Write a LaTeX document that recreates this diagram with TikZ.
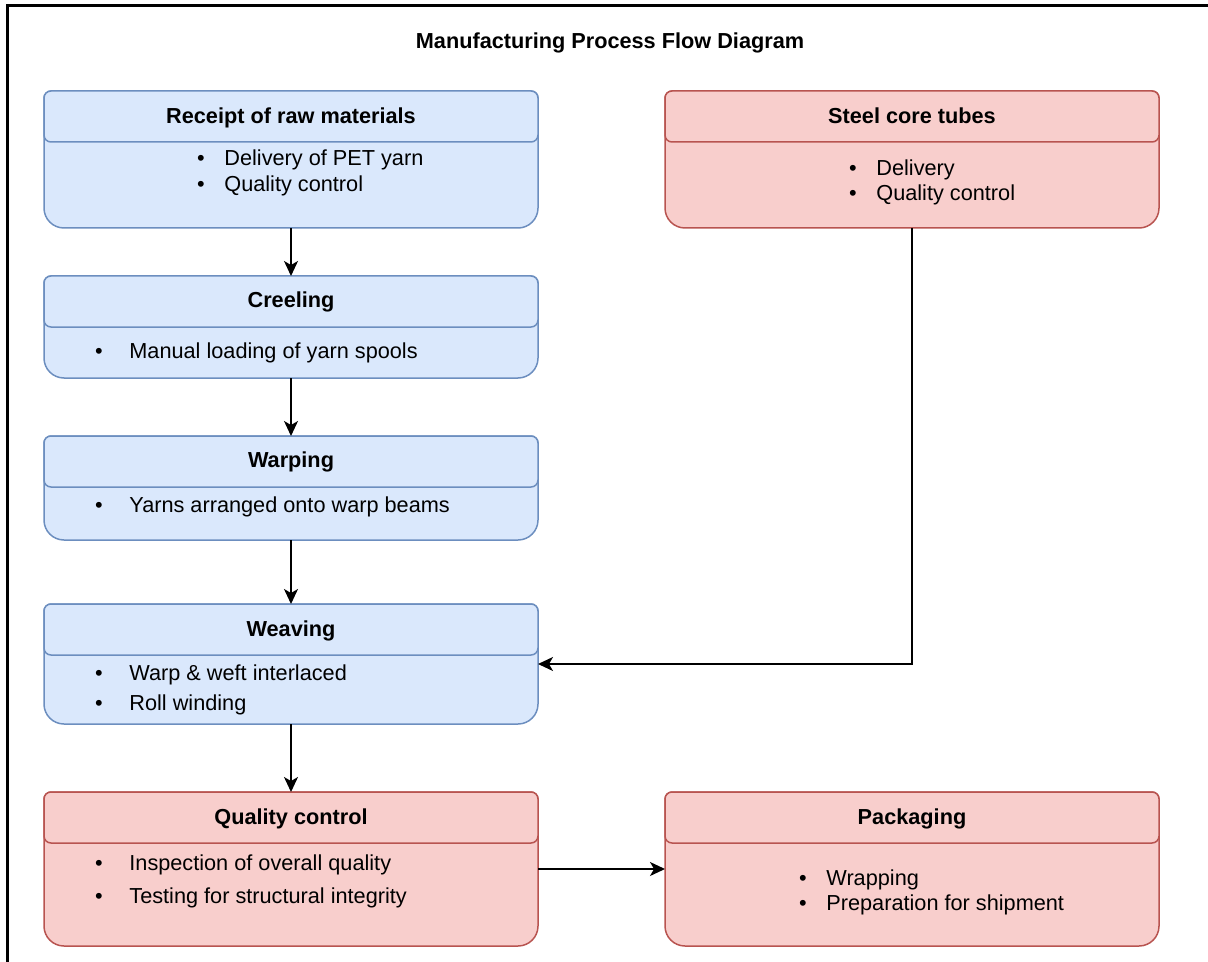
\documentclass[tikz,border=0pt]{standalone}
\usepackage{fontspec}
\setmainfont{Liberation Sans}
\usetikzlibrary{arrows.meta}
\definecolor{bluefill}{HTML}{DAE8FC}
\definecolor{blueline}{HTML}{6C8EBF}
\definecolor{redfill}{HTML}{F8CECC}
\definecolor{redline}{HTML}{B85450}
\newcommand{\dfont}{\fontsize{10.85}{13}\selectfont}
% box: name, x1, y1, x2, y2, header bottom, look
\newcommand{\flowbox}[7]{%
  \filldraw[#7] (#2,-#3-7) arc[start angle=180,end angle=90,radius=7] -- (#4-7,-#3) arc[start angle=90,end angle=0,radius=7] -- (#4,-#5+20) arc[start angle=0,end angle=-90,radius=20] -- (#2+20,-#5) arc[start angle=270,end angle=180,radius=20] -- cycle;
  \filldraw[#7,rounded corners=3.5pt] (#2,-#3) rectangle (#4,-#6);
  \node[boxarea,minimum width={(#4-#2)*0.5pt},minimum height={(#5-#3)*0.5pt}] (#1) at ({(#2+#4)/2},{-(#3+#5)/2}) {};
}

\begin{document}
\begin{tikzpicture}[x=0.5pt,y=0.5pt,font=\dfont,
    bluebox/.style={fill=bluefill,draw=blueline,line width=0.75pt},
    redbox/.style={fill=redfill,draw=redline,line width=0.75pt},
    boxarea/.style={rectangle,inner sep=0pt,outer sep=0pt},
    head/.style={font=\dfont\bfseries,anchor=base,inner sep=0pt},
    item/.style={anchor=base west,inner sep=0pt},
    dot/.style={anchor=base,inner sep=0pt},
    arr/.style={-{Stealth[length=7.5pt,width=7pt,inset=2pt]},line width=0.75pt}]
        \useasboundingbox (0,0) rectangle (1208,-962);
        \draw[line width=1.1pt](7.5,-962)|-(1208,-5.5);
        \node[head](title)at(610,-49){Manufacturing Process Flow Diagram};

        \flowbox{receipt}{44}{91}{538}{228}{142}{bluebox}
        \node[head](receipt-t)at(291,-123.5){Receipt of raw materials};
        \node[dot](receipt-b1)at(201,-166){\textbullet};
        \node[item](receipt-l1)at(224,-166){Delivery of PET yarn};
        \node[dot](receipt-b2)at(201,-192){\textbullet};
        \node[item](receipt-l2)at(224,-192){Quality control};

        \flowbox{steel}{665}{91}{1159}{228}{142}{redbox}
        \node[head](steel-t)at(912,-123.5){Steel core tubes};
        \node[dot](steel-b1)at(853,-176){\textbullet};
        \node[item](steel-l1)at(876,-176){Delivery};
        \node[dot](steel-b2)at(853,-201){\textbullet};
        \node[item](steel-l2)at(876,-201){Quality control};

        \flowbox{creel}{44}{276}{538}{378}{327}{bluebox}
        \node[head](creel-t)at(291,-307.5){Creeling};
        \node[dot](creel-b1)at(99,-358){\textbullet};
        \node[item](creel-l1)at(129,-358){Manual loading of yarn spools};

        \flowbox{warp}{44}{436}{538}{540}{487}{bluebox}
        \node[head](warp-t)at(291,-467.5){Warping};
        \node[dot](warp-b1)at(99,-512){\textbullet};
        \node[item](warp-l1)at(129,-512){Yarns arranged onto warp beams};

        \flowbox{weave}{44}{604}{538}{724}{655}{bluebox}
        \node[head](weave-t)at(291,-636){Weaving};
        \node[dot](weave-b1)at(99,-680){\textbullet};
        \node[item](weave-l1)at(129,-680){Warp \& weft interlaced};
        \node[dot](weave-b2)at(99,-710){\textbullet};
        \node[item](weave-l2)at(129,-710){Roll winding};

        \flowbox{qc}{44}{792}{538}{946}{843}{redbox}
        \node[head](qc-t)at(291,-824){Quality control};
        \node[dot](qc-b1)at(99,-870){\textbullet};
        \node[item](qc-l1)at(129,-870){Inspection of overall quality};
        \node[dot](qc-b2)at(99,-903){\textbullet};
        \node[item](qc-l2)at(129,-903){Testing for structural integrity};

        \flowbox{pack}{665}{792}{1159}{946}{843}{redbox}
        \node[head](pack-t)at(912,-824){Packaging};
        \node[dot](pack-b1)at(803,-885){\textbullet};
        \node[item](pack-l1)at(826,-885){Wrapping};
        \node[dot](pack-b2)at(803,-910){\textbullet};
        \node[item](pack-l2)at(826,-910){Preparation for shipment};

        \draw[arr](receipt.south)--(creel.north);
        \draw[arr](creel.south)--(warp.north);
        \draw[arr](warp.south)--(weave.north);
        \draw[arr](weave.south)--(qc.north);
        \draw[arr](steel.south)|-(weave.east);
        \draw[arr](qc.east)--(pack.west);
    \end{tikzpicture}
\end{document}
